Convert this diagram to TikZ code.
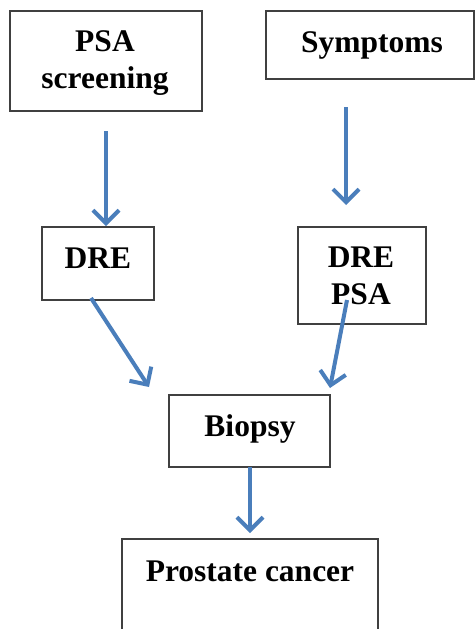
\documentclass[tikz,border=0pt]{standalone}
\usepackage{fontspec}
\setmainfont{Liberation Serif}
\usetikzlibrary{arrows.meta}
\definecolor{arrowblue}{HTML}{4A7EBB}
\definecolor{boxgray}{HTML}{404040}
\begin{document}
\begin{tikzpicture}[x=1pt,y=-1pt,
  box/.style={draw=boxgray,line width=1.3pt,anchor=north west,inner sep=0pt,outer sep=0pt},
  lbl/.style={anchor=base,inner sep=0pt,font=\fontsize{31.5}{36}\selectfont\bfseries},
  arr/.style={draw=arrowblue,line width=4pt,-{Straight Barb[length=13pt,width=26pt]}}]
\useasboundingbox (0,0) rectangle (475,629);
% boxes
\node[box,minimum width=192pt,minimum height=100pt] (psa) at (10,11) {};
\node[box,minimum width=208pt,minimum height=68pt] (sym) at (266,11) {};
\node[box,minimum width=112pt,minimum height=73pt] (dre1) at (42,227) {};
\node[box,minimum width=128pt,minimum height=97pt] (dre2) at (298,227) {};
\node[box,minimum width=161pt,minimum height=72pt] (bio) at (169,395) {};
\node[box,minimum width=256pt,minimum height=120pt] (pc) at (122,539) {};
% labels
\node[lbl] (tpsa) at (105,51) {PSA};
\node[lbl] (tscr) at (105,88) {screening};
\node[lbl] (tsym) at (372,52) {Symptoms};
\node[lbl] (tdre1) at (98,268) {DRE};
\node[lbl] (tdre2) at (361,267) {DRE};
\node[lbl] (tpsa2) at (361,304) {PSA};
\node[lbl] (tbio) at (250,436) {Biopsy};
\node[lbl] (tpc) at (250,581) {Prostate cancer};
% arrow end points
\coordinate (a1s) at (106,131);
\coordinate (a1e) at (106,226);
\coordinate (a2s) at (346,107);
\coordinate (a2e) at (346,205);
\coordinate (a3s) at (91,298);
\coordinate (a3e) at (149,387);
\coordinate (a4s) at (347,300);
\coordinate (a4e) at (330,388);
\coordinate (a5s) at (250,467);
\coordinate (a5e) at (250,533);
\draw[arr] (a1s) -- (a1e);
\draw[arr] (a2s) -- (a2e);
\draw[arr] (a3s) -- (a3e);
\draw[arr] (a4s) -- (a4e);
\draw[arr] (a5s) -- (a5e);
\end{tikzpicture}
\end{document}
